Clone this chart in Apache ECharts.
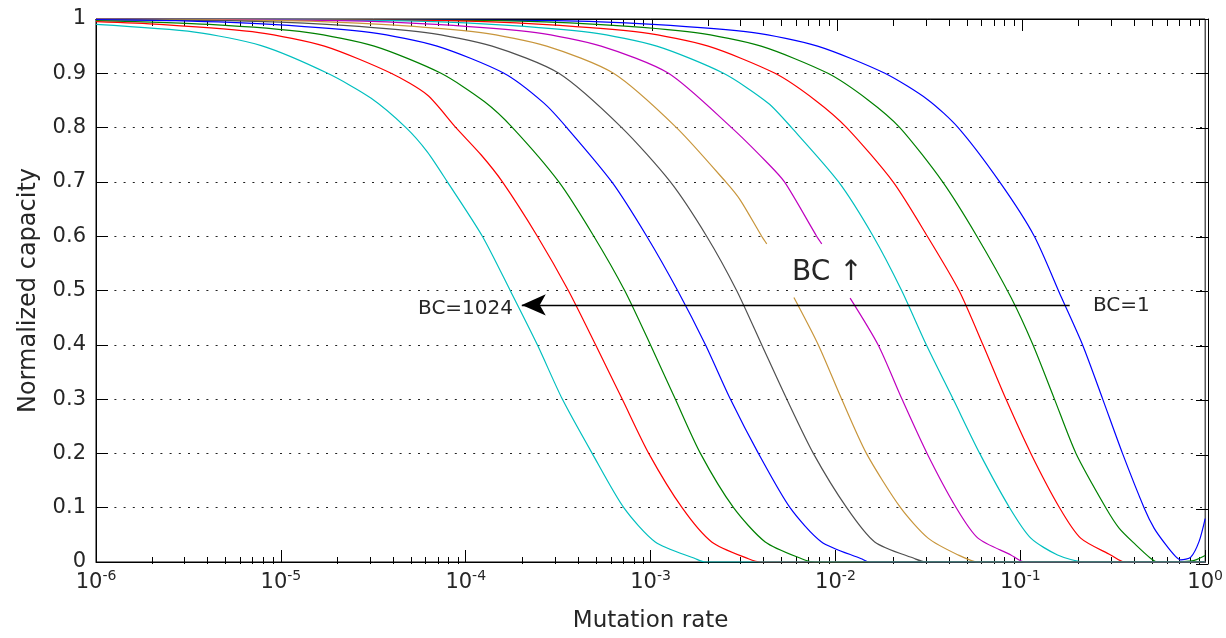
<!DOCTYPE html>
<html>
<head>
<meta charset="utf-8">
<script src="https://cdn.jsdelivr.net/npm/echarts@6/dist/echarts.min.js"></script>
<style>
  html, body { margin: 0; padding: 0; background: #fff; }
  #chart { width: 1226px; height: 638px; }
</style>
</head>
<body>
<div id="chart"></div>
<script>
// [mutation rate, normalized capacity], one array per BC
const bc1 = [[1e-6, 1], [3.1e-4, 0.997], [1.03e-3, 0.99], [3.6e-3, 0.975], [8.0e-3, 0.95], [1.85e-2, 0.9], [3.17e-2, 0.851], [4.61e-2, 0.8], [7.73e-2, 0.7], [1.19e-1, 0.6], [1.67e-1, 0.487], [2.17e-1, 0.4], [2.79e-1, 0.3], [3.57e-1, 0.2], [4.67e-1, 0.1], [5.3e-1, 0.062], [6.12e-1, 0.032], [6.93e-1, 0.01], [7.38e-1, 0.004], [8.36e-1, 0.009], [9.27e-1, 0.038], [1, 0.08]];
const bc2 = [[1e-6, 1], [1.5e-4, 0.997], [5.1e-4, 0.99], [1.75e-3, 0.975], [3.96e-3, 0.95], [9.1e-3, 0.9], [1.5e-2, 0.851], [2.23e-2, 0.8], [3.8e-2, 0.7], [5.82e-2, 0.6], [8.91e-2, 0.487], [1.17e-1, 0.4], [1.53e-1, 0.3], [2.0e-1, 0.2], [2.9e-1, 0.1], [3.43e-1, 0.062], [4.2e-1, 0.032], [5.06e-1, 0.007], [5.52e-1, 0], [8.5e-1, 0.002], [1, 0.012]];
const bc4 = [[1e-6, 1], [7.9e-5, 0.997], [2.6e-4, 0.99], [9.1e-4, 0.975], [2.05e-3, 0.95], [4.71e-3, 0.9], [7.74e-3, 0.851], [1.15e-2, 0.8], [2.05e-2, 0.7], [3.14e-2, 0.6], [4.66e-2, 0.5], [6.28e-2, 0.4], [8.36e-2, 0.3], [1.14e-1, 0.2], [1.63e-1, 0.1], [2.12e-1, 0.044], [3.08e-1, 0.013], [3.65e-1, 0], [1, 0]];
const bc8 = [[1e-6, 1], [4.1e-5, 0.997], [1.38e-4, 0.99], [4.8e-4, 0.975], [1.08e-3, 0.95], [2.48e-3, 0.9], [4.33e-3, 0.845], [5.79e-3, 0.8], [1.04e-2, 0.7], [1.6e-2, 0.6], [2.28e-2, 0.5], [3.1e-2, 0.4], [4.33e-2, 0.3], [6.03e-2, 0.2], [8.75e-2, 0.1], [1.14e-1, 0.044], [1.59e-1, 0.013], [2.22e-1, 0], [1, 0]];
// the BC=16 and BC=32 curves are broken where the "BC ↑" label sits
const bc16 = [[1e-6, 1], [2.1e-5, 0.997], [6.9e-5, 0.99], [2.4e-4, 0.975], [5.4e-4, 0.95], [1.25e-3, 0.9], [2.74e-3, 0.8], [4.2e-3, 0.738], [5.3e-3, 0.7], [7.91e-3, 0.6], [8.43e-3, 0.586], [1.0e-2, null], [1.2e-2, 0.486], [1.7e-2, 0.4], [2.29e-2, 0.3], [3.13e-2, 0.2], [4.5e-2, 0.1], [5.9e-2, 0.044], [8.89e-2, 0.013], [1.05e-1, 0], [1, 0]];
const bc32 = [[1e-6, 1], [1.05e-5, 0.997], [3.5e-5, 0.99], [1.21e-4, 0.975], [2.74e-4, 0.95], [6.3e-4, 0.9], [1.38e-3, 0.8], [2.55e-3, 0.7], [3.05e-3, 0.667], [3.99e-3, 0.6], [4.25e-3, 0.586], [5.0e-3, null], [5.96e-3, 0.487], [8.07e-3, 0.4], [1.08e-2, 0.3], [1.47e-2, 0.2], [2.25e-2, 0.1], [3.17e-2, 0.044], [4.61e-2, 0.013], [5.9e-2, 0], [1, 0]];
const bc64 = [[1e-6, 0.999], [5.3e-6, 0.997], [1.77e-5, 0.99], [6.1e-5, 0.975], [1.39e-4, 0.95], [3.19e-4, 0.9], [6.98e-4, 0.8], [1.28e-3, 0.7], [2.01e-3, 0.6], [2.92e-3, 0.5], [3.99e-3, 0.4], [5.45e-3, 0.3], [7.59e-3, 0.2], [1.15e-2, 0.1], [1.63e-2, 0.037], [2.69e-2, 0.006], [3.09e-2, 0], [1, 0]];
const bc128 = [[1e-6, 0.999], [2.7e-6, 0.997], [8.9e-6, 0.99], [3.1e-5, 0.975], [7.0e-5, 0.95], [1.61e-4, 0.9], [2.65e-4, 0.845], [3.52e-4, 0.8], [6.17e-4, 0.7], [9.53e-4, 0.6], [1.4e-3, 0.5], [1.98e-3, 0.4], [2.7e-3, 0.3], [3.83e-3, 0.2], [5.68e-3, 0.1], [8.41e-3, 0.037], [1.38e-2, 0.006], [1.53e-2, 0], [1, 0]];
const bc256 = [[1e-6, 0.997], [4.1e-6, 0.99], [1.41e-5, 0.975], [3.2e-5, 0.95], [7.35e-5, 0.9], [1.26e-4, 0.848], [1.79e-4, 0.8], [3.19e-4, 0.7], [4.93e-4, 0.6], [7.24e-4, 0.5], [9.98e-4, 0.4], [1.36e-3, 0.3], [1.86e-3, 0.2], [2.81e-3, 0.1], [4.17e-3, 0.037], [6.56e-3, 0.006], [7.75e-3, 0], [1, 0]];
const bc512 = [[1e-6, 0.995], [2.2e-6, 0.99], [7.6e-6, 0.975], [1.72e-5, 0.95], [3.95e-5, 0.9], [6.2e-5, 0.86], [8.85e-5, 0.8], [1.21e-4, 0.75], [1.58e-4, 0.7], [2.44e-4, 0.6], [3.59e-4, 0.5], [5.04e-4, 0.4], [7.02e-4, 0.3], [9.77e-4, 0.2], [1.48e-3, 0.1], [2.14e-3, 0.037], [3.38e-3, 0.006], [3.98e-3, 0], [1, 0]];
const bc1024 = [[1e-6, 0.99], [3.42e-6, 0.976], [7.83e-6, 0.951], [1.79e-5, 0.9], [3.08e-5, 0.854], [4.75e-5, 0.8], [6.21e-5, 0.755], [7.96e-5, 0.7], [1.23e-4, 0.6], [1.74e-4, 0.5], [2.44e-4, 0.4], [3.33e-4, 0.3], [4.83e-4, 0.2], [7.16e-4, 0.1], [1.06e-3, 0.037], [1.75e-3, 0.006], [1.98e-3, 0], [1, 0]];

const bcNames = ['BC=1', 'BC=2', 'BC=4', 'BC=8', 'BC=16', 'BC=32', 'BC=64', 'BC=128', 'BC=256', 'BC=512', 'BC=1024'];
const bcData = [bc1, bc2, bc4, bc8, bc16, bc32, bc64, bc128, bc256, bc512, bc1024];

// arrow from BC=1 to BC=1024 at this capacity level
const arrowLevel = 0.4734;
const arrowFrom = 0.185;
const arrowTo = 2.01e-4;

const decades = [-6, -5, -4, -3, -2, -1, 0];
const minorSteps = [2, 3, 4, 5, 6, 7, 8, 9];

// matlab style colour order
const lineColors = ['#0000ff', '#008000', '#ff0000', '#00bfbf', '#bf00bf', '#c8963c', '#505050',
  '#0000ff', '#008000', '#ff0000', '#00bfbf'];

const FONT = '"DejaVu Sans", sans-serif';
const INK = '#262626';

// minor tick positions in log10 space (helper value axes)
const minorTicks = [];
decades.slice(0, -1).forEach(d => minorSteps.forEach(k => minorTicks.push(d + Math.log10(k))));

const chart = echarts.init(document.getElementById('chart'), null, { renderer: 'canvas' });

const plotBox = { left: 96, right: 18, top: 19, bottom: 74 };
const tickLine = { color: '#000', width: 1 };

const series = bcData.map((d, i) => ({
  type: 'line',
  name: bcNames[i],
  data: d,
  xAxisIndex: 0,
  yAxisIndex: 0,
  symbol: 'none',
  showSymbol: false,
  connectNulls: false,
  smooth: 0.25,
  lineStyle: { color: lineColors[i], width: 1.2 },
  itemStyle: { color: lineColors[i] },
  z: 2 + i
}));

series[0].markLine = {
  silent: true,
  animation: false,
  z: 20,
  label: { show: false },
  lineStyle: { color: '#000', width: 1.3, type: 'solid' },
  data: [[
    { coord: [arrowFrom, arrowLevel], symbol: 'none' },
    { coord: [arrowTo, arrowLevel], symbol: 'arrow', symbolSize: [16, 24] }
  ]]
};

const hiddenY = gi => ({ type: 'value', gridIndex: gi, min: 0, max: 1, show: false, axisLine: { onZero: false } });

const option = {
  animation: false,
  backgroundColor: '#fff',
  // four grids on the same box: data + bottom/left, minor bottom + right, top major, top minor
  grid: [
    Object.assign({ show: true, borderColor: '#000', borderWidth: 1, backgroundColor: 'transparent' }, plotBox),
    Object.assign({}, plotBox),
    Object.assign({}, plotBox),
    Object.assign({}, plotBox)
  ],
  xAxis: [
    {
      type: 'log', logBase: 10, min: 1e-6, max: 1, gridIndex: 0, position: 'bottom',
      axisLine: { show: true, onZero: false, lineStyle: tickLine },
      axisTick: { show: true, inside: true, length: 12, lineStyle: tickLine },
      splitLine: { show: false },
      axisLabel: {
        margin: 7,
        color: INK,
        formatter: v => '{b|10}{s|' + Math.round(Math.log10(v)) + '}',
        rich: {
          b: { fontSize: 21, fontFamily: FONT, color: INK, lineHeight: 24, padding: [8, 0, 0, 0], verticalAlign: 'bottom' },
          s: { fontSize: 14, fontFamily: FONT, color: INK, lineHeight: 16, verticalAlign: 'top' }
        }
      },
      name: 'Mutation rate', nameLocation: 'middle', nameGap: 48,
      nameTextStyle: { fontSize: 23, fontFamily: FONT, color: INK }
    },
    {
      type: 'value', min: -6, max: 0, gridIndex: 1, position: 'bottom',
      axisLine: { show: false, onZero: false },
      axisTick: { show: true, inside: true, length: 7, customValues: minorTicks, lineStyle: tickLine },
      axisLabel: { show: false }, splitLine: { show: false }
    },
    {
      type: 'log', logBase: 10, min: 1e-6, max: 1, gridIndex: 2, position: 'top',
      axisLine: { show: true, onZero: false, lineStyle: tickLine },
      axisTick: { show: true, inside: true, length: 12, lineStyle: tickLine },
      axisLabel: { show: false }, splitLine: { show: false }
    },
    {
      type: 'value', min: -6, max: 0, gridIndex: 3, position: 'top',
      axisLine: { show: false, onZero: false },
      axisTick: { show: true, inside: true, length: 7, customValues: minorTicks, lineStyle: tickLine },
      axisLabel: { show: false }, splitLine: { show: false }
    }
  ],
  yAxis: [
    {
      type: 'value', min: 0, max: 1, interval: 0.1, gridIndex: 0, position: 'left',
      axisLine: { show: true, onZero: false, lineStyle: tickLine },
      axisTick: { show: true, inside: true, length: 12, lineStyle: tickLine },
      axisLabel: { margin: 10, fontSize: 21, fontFamily: FONT, color: INK },
      splitLine: {
        show: true, showMinLine: false, showMaxLine: false,
        lineStyle: { color: '#222', width: 1, type: [2, 7.2] }
      },
      name: 'Normalized capacity', nameLocation: 'middle', nameGap: 55, nameRotate: 90,
      nameTextStyle: { fontSize: 24, fontFamily: FONT, color: INK }
    },
    {
      type: 'value', min: 0, max: 1, interval: 0.1, gridIndex: 1, position: 'right',
      axisLine: { show: true, onZero: false, lineStyle: tickLine },
      axisTick: { show: true, inside: true, length: 12, lineStyle: tickLine },
      axisLabel: { show: false }, splitLine: { show: false }
    },
    hiddenY(2),
    hiddenY(3)
  ],
  graphic: [
    {
      type: 'text', x: 513, y: 309, silent: true, z: 30,
      style: { text: 'BC=1024', font: '20px ' + FONT, fill: INK, align: 'right', verticalAlign: 'middle' }
    },
    {
      type: 'text', x: 1093, y: 306, silent: true, z: 30,
      style: { text: 'BC=1', font: '20px ' + FONT, fill: INK, align: 'left', verticalAlign: 'middle' }
    },
    {
      type: 'text', x: 792, y: 273, silent: true, z: 30,
      style: { text: 'BC \u2191', font: '28px ' + FONT, fill: INK, align: 'left', verticalAlign: 'middle' }
    }
  ],
  series: series
};

chart.setOption(option);
</script>
</body>
</html>
